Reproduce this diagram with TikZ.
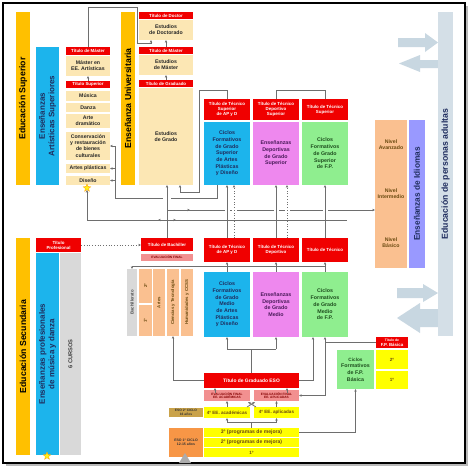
\documentclass[tikz,border=0pt]{standalone}
\usepackage{fontspec}
\setmainfont{Liberation Sans}
\usetikzlibrary{shapes.geometric,arrows.meta,calc}
\definecolor{tred}{HTML}{F00000}
\definecolor{tbeige}{HTML}{FCE7B4}
\definecolor{tyel}{HTML}{FFC000}
\definecolor{tcyan}{HTML}{1CB4EC}
\definecolor{tvio}{HTML}{EE88EE}
\definecolor{tgrn}{HTML}{8FEE8F}
\definecolor{tpeach}{HTML}{FAC090}
\definecolor{tgray}{HTML}{D9D9D9}
\definecolor{tpink}{HTML}{F29090}
\definecolor{tyl}{HTML}{FFFF00}
\definecolor{tkhaki}{HTML}{C9A24A}
\definecolor{torange}{HTML}{F79646}
\definecolor{tlav}{HTML}{9999FF}
\definecolor{tadult}{HTML}{D4DFE7}
\definecolor{tarrow}{HTML}{C8D7E1}
\definecolor{tnavy}{HTML}{1F2D5E}
\definecolor{tpurp}{HTML}{4A1A5A}
\definecolor{tdkgrn}{HTML}{1E4E1E}
\definecolor{tbrown}{HTML}{6B4A10}
\definecolor{tline}{HTML}{6E6E6E}
\tikzset{
 bx/.style={inner sep=0pt, outer sep=0pt, align=center, font=\bfseries\fontsize{5.2}{6.1}\selectfont},
 ttl/.style={bx, fill=tred, text=white, font=\bfseries\fontsize{4.4}{5}\selectfont},
 beig/.style={bx, fill=tbeige, text=black!85},
 cic/.style={bx, font=\bfseries\fontsize{5.3}{6.7}\selectfont},
 cyb/.style={cic, fill=tcyan, text=tnavy},
 vio/.style={cic, fill=tvio, text=tpurp},
 grn/.style={cic, fill=tgrn, text=tdkgrn},
 pch/.style={bx, fill=tpeach, text=tbrown},
 gry/.style={bx, fill=tgray},
 pnk/.style={bx, fill=tpink, text=tred!55!black, font=\bfseries\fontsize{3.2}{3.8}\selectfont},
 yl/.style={bx, fill=tyl, text=tbrown, font=\bfseries\fontsize{4.6}{5.4}\selectfont},
 ybar/.style={bx, fill=tyel},
 cbar/.style={bx, fill=tcyan},
 big/.style={font=\bfseries\fontsize{8.7}{10}\selectfont},
 rt/.style={font=\bfseries\fontsize{4.3}{5}\selectfont, text=tbrown},
 ln/.style={draw=tline, line width=0.75pt},
 ar/.style={ln, -{Stealth[length=2.8pt,width=2.4pt]}},
 wp/.style={preaction={draw=white, line width=5pt, solid, -}},
 starry/.style={star, star points=5, star point ratio=2.3, fill=yellow!90!white, draw=orange!80!yellow, line width=0.3pt, minimum size=8pt, inner sep=0pt},
}
\newcommand\B[7]{\node[#2, minimum width={(#5)-(#3)}, minimum height={(#6)-(#4)}] (#1) at ({((#3)+(#5))/2},{((#4)+(#6))/2}) {#7};}
\newcommand\Rb[8]{\B{#1}{#2}{#3}{#4}{#5}{#6}{}\node[rotate=90, align=center, inner sep=0pt, #7] (#1t) at (#1) {#8};}
\begin{document}
\begin{tikzpicture}[x=1pt,y=-1pt]
\useasboundingbox (0,0) rectangle (474,474);
\fill[white] (0,0) rectangle (474,474);
\fill[gray!55] (6,6) rectangle (468,466);
\draw[black, line width=1.1pt, fill=white] (3,3) rectangle (465,463);

% ---------- big arrows and adult education bar
\fill[tarrow] (398,38) -- (425,38) -- (425,33) -- (438,42.5) -- (425,52) -- (425,47) -- (398,47) -- cycle;
\fill[tarrow] (438,60) -- (420,60) -- (420,55) -- (399,63.5) -- (420,72) -- (420,68) -- (438,68) -- cycle;
\fill[tarrow] (397,288) -- (423,288) -- (423,284) -- (438,293) -- (423,302) -- (423,298) -- (397,298) -- cycle;
\fill[tarrow] (438,309) -- (420,309) -- (420,303) -- (397,318) -- (420,333) -- (420,327) -- (438,327) -- cycle;
\Rb{epa}{bx, fill=tadult}{438}{12}{453}{336}{big, text=tnavy}{Educación de personas adultas}

% ---------- higher education (left)
\Rb{es}{ybar}{16}{12}{30}{185}{big}{Educación Superior}
\Rb{eas}{cbar}{36}{47}{59}{185}{big, text=tnavy, font=\bfseries\fontsize{8}{9.5}\selectfont}{Enseñanzas\\Artísticas Superiores}
\B{tmA}{ttl}{66}{47}{110}{55}{Título de Máster}
\B{mEE}{beig}{66}{56}{110}{76}{Máster en\\EE. Artísticas}
\B{tsup}{ttl}{66}{81}{110}{88}{Título Superior}
\B{mus}{beig}{66}{91}{110}{101}{Música}
\B{dan}{beig}{66}{103}{110}{112}{Danza}
\B{arte}{beig}{66}{114}{110}{128}{Arte\\dramático}
\B{cons}{beig}{66}{132}{110}{160}{Conservación\\y restauración\\de bienes\\culturales}
\B{apl}{beig}{66}{164}{110}{173}{Artes plásticas}
\B{dis}{beig}{66}{176}{110}{185}{Diseño}
\node[starry] (st1) at (87,188) {};

% ---------- university
\Rb{eu}{ybar}{121}{12}{135}{185}{big}{Enseñanza Universitaria}
\B{tdoc}{ttl}{139}{12}{193}{19}{Título de Doctor}
\B{edoc}{beig}{139}{20}{193}{40}{Estudios\\de Doctorado}
\B{tmas}{ttl}{139}{47}{193}{54}{Título de Máster}
\B{emas}{beig}{139}{55}{193}{75}{Estudios\\de Máster}
\B{tgrad}{ttl}{139}{80}{193}{87}{Título de Graduado}
\B{egrad}{beig}{139}{88}{193}{185}{Estudios\\de Grado}

% ---------- FP superior
\B{tts1}{ttl}{204}{99}{250}{120}{Título de Técnico\\Superior\\de AP y D}
\B{ttds}{ttl}{253}{99}{299}{120}{Título de Técnico\\Deportivo\\Superior}
\B{tts3}{ttl}{302}{99}{348}{120}{Título de Técnico\\Superior}
\B{cgs1}{cyb}{204}{122}{250}{185}{Ciclos\\Formativos\\de Grado\\Superior\\de Artes\\Plásticas\\y Diseño}
\B{cgs2}{vio}{253}{122}{299}{185}{Enseñanzas\\Deportivas\\de Grado\\Superior}
\B{cgs3}{grn}{302}{122}{348}{185}{Ciclos\\Formativos\\de Grado\\Superior\\de F.P.}

% ---------- languages
\B{nav}{pch}{375}{120}{407}{169}{Nivel\\Avanzado}
\B{nint}{pch}{375}{169}{407}{218}{Nivel\\Intermedio}
\B{nbas}{pch}{375}{218}{407}{268}{Nivel\\Básico}
\Rb{idi}{bx, fill=tlav}{409}{120}{425}{268}{big, text=tnavy, font=\bfseries\fontsize{8.3}{10}\selectfont}{Enseñanzas de Idiomas}

% ---------- middle row
\B{tbach}{ttl}{141}{238}{193}{251}{Título de Bachiller}
\B{evf}{pnk}{141}{254}{193}{261}{EVALUACIÓN FINAL}
\B{ttm1}{ttl}{204}{238}{250}{262}{Título de Técnico\\de AP y D}
\B{ttm2}{ttl}{253}{238}{299}{262}{Título de Técnico\\Deportivo}
\B{ttm3}{ttl}{302}{238}{348}{262}{Título de Técnico}
\Rb{bach}{gry}{127}{269}{137}{336}{rt, text=black!70}{Bachillerato}
\Rb{b2}{bx, fill=tpeach}{139}{269}{152}{303}{rt}{2º}
\Rb{b1}{bx, fill=tpeach}{139}{305}{152}{336}{rt}{1º}
\Rb{bart}{bx, fill=tpeach}{153}{269}{165}{336}{rt}{Artes}
\Rb{bct}{bx, fill=tpeach}{167}{269}{179}{336}{rt}{Ciencias y Tecnología}
\Rb{bhum}{bx, fill=tpeach}{181}{269}{193}{336}{rt}{Humanidades y CCSS}
\B{cgm1}{cyb}{204}{272}{250}{337}{Ciclos\\Formativos\\de Grado\\Medio\\de Artes\\Plásticas\\y Diseño}
\B{cgm2}{vio}{253}{272}{299}{337}{Enseñanzas\\Deportivas\\de Grado\\Medio}
\B{cgm3}{grn}{302}{272}{348}{337}{Ciclos\\Formativos\\de Grado\\Medio\\de F.P.}

% ---------- secondary (left)
\Rb{esec}{ybar}{16}{238}{30}{455}{big}{Educación Secundaria}
\B{tprof}{ttl}{36}{238}{81}{252}{Título\\Profesional}
\Rb{epm}{cbar}{36}{253}{59}{455}{big, text=tnavy, font=\bfseries\fontsize{8}{9.5}\selectfont}{Enseñanzas profesionales\\de música y danza}
\Rb{cur}{gry}{60}{253}{81}{455}{font=\bfseries\fontsize{5.7}{6}\selectfont, text=black!75}{6 CURSOS}
\node[starry] (st2) at (47,456) {};

% ---------- ESO
\B{tgeso}{ttl}{204}{373}{299}{388}{\fontsize{4.9}{5.5}\selectfont Título de Graduado ESO}
\B{evac}{pnk}{204}{390}{250}{401}{EVALUACIÓN FINAL\\EE. ACADÉMICAS}
\B{evap}{pnk}{254}{390}{299}{401}{EVALUACIÓN FINAL\\EE. APLICADAS}
\B{c4ac}{yl}{204}{407}{250}{418}{4º EE. académicas}
\B{c4ap}{yl}{254}{407}{299}{418}{4º EE. aplicadas}
\B{eso2}{bx, fill=tkhaki, text=black!80, font=\bfseries\fontsize{3.3}{3.9}\selectfont}{169}{408}{203}{417}{ESO 2º CICLO\\16 años}
\B{eso1}{bx, fill=torange, text=black!80, font=\bfseries\fontsize{3.5}{4.2}\selectfont}{169}{428}{203}{457}{ESO 1º CICLO\\12-15 años}
\B{e3}{yl}{204}{428}{299}{437}{\fontsize{5.1}{6}\selectfont 3º (programas de mejora)}
\B{e2}{yl}{204}{438}{299}{447}{\fontsize{5.1}{6}\selectfont 2º (programas de mejora)}
\B{e1}{yl}{204}{448}{299}{457}{1º}
\fill[gray!65] (179,463) -- (191,463) -- (185,453) -- cycle;

% ---------- FP basica
\B{tfpb}{ttl}{376}{337}{408}{348}{\fontsize{3.4}{4}\selectfont Título de\\F.P. Básica}
\B{fb2}{yl}{376}{350}{408}{369}{2º}
\B{fb1}{yl}{376}{371}{408}{389}{1º}
\B{cfpb}{grn}{337}{350}{374}{389}{\fontsize{4.7}{5.7}\selectfont Ciclos\\Formativos\\de F.P.\\Básica}

% ================= connectors
\draw[ar] (tmA.north) |- (137,7) -- (137,43) -| ($(edoc.south)+(-15,0)$);
\draw[ar] (tmas.north) -- (edoc.south);
\draw[ar] (tgrad.north) -- (emas.south);
\draw[ar] (tsup.north) -- (mEE.south);

\draw[ln] ($(cgs1.south)+(-10,0)$) |- (115,198) -- (115,146);
\draw[ar] (115,146) -- (cons.east);
\draw[ar] (115,0 |- apl.east) -- (apl.east);
\draw[ar] (115,0 |- dis.east) -- (dis.east);

\draw[ln] (tts1.north) |- (199,90);
\draw[ln] (ttds.north) -- (ttds.north |- 0,90);
\draw[ln] (tts3.north) |- (ttds.north |- 0,90);
\draw[ar] (199,90) -- (199,192) -| ($(egrad.south)+(14,0)$);

\draw[ar, preaction={draw=white, line width=8pt, -}] (tbach.north) -- (tbach.north |- egrad.south);
\draw[ar] (tbach.north |- 0,210) -- (nint.west |- 0,210);
\draw[ar] (182,210) -- (190,210);

\draw[ar, wp] (ttm1.north) -- (cgs1.south);
\draw[ar, wp, dotted] ($(ttm1.north)+(7,0)$) -- ($(cgs1.south)+(7,0)$);
\draw[ar, wp] (ttm2.north) -- (cgs2.south);
\draw[ar, wp, dotted] ($(ttm2.north)+(11,0)$) -- ($(cgs2.south)+(11,0)$);
\draw[ar, wp] (ttm3.north) -- (cgs3.south);

\draw[ln] (87,220) -- (347,220);
\draw[ar] (87,220) -- (st1.south);
\draw[ar] (163,220) -- (158,220);
\draw[ar] (171,220) -- (176,220);

\draw[ar] (ttm3.south |- 0,266) -| (bach.north);
\draw[ar] (cgm1.north) -- (ttm1.south);
\draw[ar] (cgm2.north) -- (ttm2.south);
\draw[ar] (cgm3.north) -- (ttm3.south);

\draw[ar, dotted] (tprof.east) -- (tbach.west |- tprof.east);

\draw[ar] (tgeso.west) -| (bct.south);
\draw[ar] (tgeso.east) -| ($(cgm3.south)+(-12,0)$);
\draw[ln] (tgeso.north) -- (tgeso.north |- 0,349);
\draw[ln] (cgm1.south |- 0,349) -- (cgm2.south |- 0,349);
\draw[ar] (cgm1.south |- 0,349) -- (cgm1.south);
\draw[ar] (cgm2.south |- 0,349) -- (cgm2.south);

\draw[ar] (c4ac.north) -- (evac.south);
\draw[ar] (c4ap.north) -- (evap.south);
\draw[ar] (247,407) -- (255,402);
\draw[ar] (256,407) -- (248,402);
\draw[ar] (215,393) -- (tgeso.south -| 215,0);
\draw[ar] (287,393) -- (tgeso.south -| 287,0);
\draw[ln] (e3.north) -- (e3.north |- 0,422);
\draw[ar] (e3.north |- 0,422) -| (c4ac.south);
\draw[ar] (e3.north |- 0,422) -| (c4ap.south);

\draw[ar] (tfpb.west) -| (cgm3.south);
\draw[ar] (cgm3.south |- tfpb.west) |- (evap.east);
\draw[ar] (e3.east) -| (cfpb.south);
\end{tikzpicture}
\end{document}
